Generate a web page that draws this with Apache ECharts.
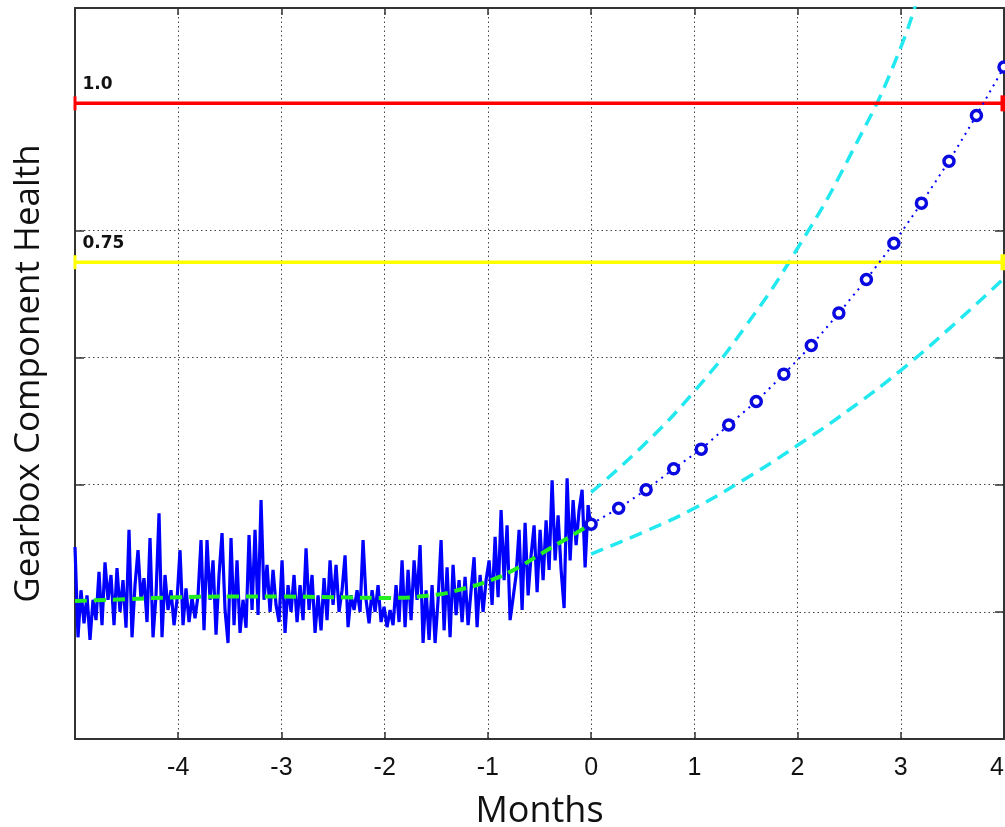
<!DOCTYPE html>
<html>
<head>
<meta charset="utf-8">
<script src="https://cdn.jsdelivr.net/npm/echarts@6/dist/echarts.min.js"></script>
<style>
html,body{margin:0;padding:0;background:#fff;overflow:hidden;}
#chart{width:1005px;height:827px;}
</style>
</head>
<body>
<div id="chart"></div>
<script>
// ---- Data ----
// Measured health history, evenly spaced from -5 to 0 months
const historyStart = -5;
const historyEnd = 0;
const historyValues = [
  0.302,0.160,0.234,0.182,0.226,0.156,0.219,0.187,0.263,0.179,0.278,0.219,0.258,0.179,0.269,0.200,0.250,0.175,0.329,0.160,0.242,0.297,0.219,0.253,0.184,0.316,0.160,0.226,0.355,0.160,0.258,0.203,0.234,0.179,0.219,0.297,0.179,0.237,0.184,0.222,0.190,0.226,0.313,
  0.171,0.313,0.219,0.281,0.164,0.258,0.324,0.203,0.151,0.316,0.179,0.281,0.167,0.219,0.175,0.321,0.203,0.329,0.195,0.376,0.219,0.274,0.200,0.266,0.211,0.184,0.281,0.167,0.242,0.200,0.258,0.184,0.242,0.187,0.300,0.203,0.258,0.167,0.226,0.171,0.253,0.187,0.281,0.211,
  0.274,0.200,0.234,0.289,0.176,0.226,0.203,0.234,0.200,0.313,0.219,0.182,0.234,0.200,0.242,0.184,0.208,0.176,0.203,0.179,0.242,0.184,0.281,0.176,0.266,0.187,0.281,0.219,0.305,0.151,0.234,0.156,0.242,0.151,0.219,0.313,0.171,0.270,0.160,0.274,0.195,0.250,0.184,
  0.255,0.179,0.234,0.286,0.176,0.258,0.200,0.250,0.281,0.211,0.318,0.223,0.360,0.250,0.336,0.187,0.222,0.258,0.329,0.203,0.340,0.226,0.289,0.336,0.231,0.329,0.250,0.344,0.266,0.407,0.281,0.352,0.266,0.206,0.410,0.281,0.376,0.305,0.360,0.392,0.270,0.368,0.329
];
// Trend fit (green dashed)
const fitMonths = [-5,-4.5,-4,-3.5,-3,-2.5,-2,-1.5,-1.25,-1,-0.75,-0.5,-0.25,0];
const fitValues = [0.217,0.220,0.223,0.224,0.224,0.223,0.222,0.227,0.236,0.248,0.266,0.290,0.314,0.338];
// Forecast (blue circles)
const forecastMonths = [0,0.267,0.533,0.8,1.067,1.333,1.6,1.867,2.133,2.4,2.667,2.933,3.2,3.467,3.733,4];
const forecastValues = [0.338,0.363,0.392,0.425,0.456,0.494,0.531,0.574,0.619,0.670,0.723,0.780,0.843,0.909,0.981,1.057];
// Confidence bounds (cyan dashed)
const upperMonths = [0,0.5,1,1.5,2,2.5,3,3.25];
const upperValues = [0.388,0.461,0.547,0.650,0.772,0.915,1.088,1.220];
const lowerMonths = [0,0.5,1,1.5,2,2.5,3,3.5,4];
const lowerValues = [0.291,0.325,0.363,0.410,0.462,0.518,0.580,0.650,0.725];
// Thresholds
const thresholdValues = [1.0, 0.75];
const thresholdLabels = ['1.0', '0.75'];
const xTicks = [-4,-3,-2,-1,0,1,2,3,4];

// ---- Build ----
const histData = historyValues.map((v, i) => [historyStart + i * (historyEnd - historyStart) / (historyValues.length - 1), v]);
const zip = (a, b) => a.map((x, i) => [x, b[i]]);

function thresholdSeries(val, label, color) {
  return {
    type: 'line',
    data: [
      {value: [-5, val], symbol: 'rect', symbolSize: [3, 14],
       label: {show: true, formatter: label, position: [9, -20], fontFamily: 'DejaVu Sans', fontWeight: 'bold', fontSize: 17, color: '#111'}},
      {value: [4, val], symbol: 'rect', symbolSize: [7, 16]}
    ],
    showSymbol: true,
    lineStyle: {color: color, width: 3.5},
    itemStyle: {color: color},
    z: 4,
    silent: true
  };
}

const axisColor = '#333';
const option = {
  animation: false,
  backgroundColor: '#fff',
  grid: {left: 75, right: 1, top: 8, bottom: 88, containLabel: false, outerBoundsMode: 'none'},
  xAxis: [{
    type: 'value', min: -5, max: 4, interval: 1,
    name: 'Months', nameLocation: 'middle', nameGap: 55,
    nameTextStyle: {fontFamily: 'Open Sans', fontSize: 36, color: '#111'},
    axisLine: {show: true, onZero: false, lineStyle: {color: axisColor, width: 2}},
    axisTick: {show: true, inside: true, length: 7, lineStyle: {color: axisColor, width: 1.5}},
    axisLabel: {show: true, fontFamily: 'Liberation Sans', fontSize: 25, color: '#111', margin: 17,
      alignMaxLabel: 'right',
      formatter: v => xTicks.includes(v) ? String(v) : ''},
    splitLine: {show: true, lineStyle: {type: [1.5, 3], color: '#444', width: 1}}
  }, {
    type: 'value', position: 'top', min: -5, max: 4, interval: 1,
    axisLine: {show: true, onZero: false, lineStyle: {color: axisColor, width: 2}},
    axisTick: {show: true, inside: true, length: 7, lineStyle: {color: axisColor, width: 1.5}},
    axisLabel: {show: false}, splitLine: {show: false}
  }],
  yAxis: [{
    type: 'value', min: 0, max: 1.15, interval: 0.2,
    name: 'Gearbox Component Health', nameLocation: 'middle', nameGap: 28,
    nameTextStyle: {fontFamily: 'Open Sans', fontSize: 35, color: '#111'},
    axisLine: {show: true, onZero: false, lineStyle: {color: axisColor, width: 2}},
    axisTick: {show: true, inside: true, length: 9, lineStyle: {color: axisColor, width: 1.5}},
    axisLabel: {show: false},
    splitLine: {show: true, lineStyle: {type: [1.5, 3], color: '#444', width: 1}}
  }, {
    type: 'value', position: 'right', min: 0, max: 1.15, interval: 0.2,
    axisLine: {show: true, onZero: false, lineStyle: {color: axisColor, width: 2}},
    axisTick: {show: true, inside: true, length: 9, lineStyle: {color: axisColor, width: 1.5}},
    axisLabel: {show: false}, splitLine: {show: false}
  }],
  series: [
    {
      type: 'line', data: histData, showSymbol: false,
      lineStyle: {color: '#0000ff', width: 3.2}, z: 2, silent: true
    },
    {
      type: 'line', data: zip(fitMonths, fitValues), smooth: true, showSymbol: false,
      lineStyle: {color: '#22ee22', width: 4, type: [12, 7]}, z: 3, silent: true
    },
    {
      type: 'line', data: zip(upperMonths, upperValues), smooth: true, showSymbol: false, clip: true,
      lineStyle: {color: '#22e8f0', width: 3.5, type: [13, 8]}, z: 3, silent: true
    },
    {
      type: 'line', data: zip(lowerMonths, lowerValues), smooth: true, showSymbol: false, clip: true,
      lineStyle: {color: '#22e8f0', width: 3.5, type: [13, 8]}, z: 3, silent: true
    },
    thresholdSeries(thresholdValues[0], thresholdLabels[0], '#ff0000'),
    thresholdSeries(thresholdValues[1], thresholdLabels[1], '#ffff00'),
    {
      type: 'line', data: zip(forecastMonths, forecastValues),
      symbol: 'circle', symbolSize: 10, showSymbol: true, showAllSymbol: true,
      lineStyle: {color: '#0000ff', width: 2, type: [2, 5]},
      itemStyle: {color: '#ffffff', borderColor: '#0a0ae0', borderWidth: 3.5},
      z: 5, silent: true
    }
  ]
};
const chart = echarts.init(document.getElementById('chart'), null, {renderer: 'canvas'});
chart.setOption(option);
</script>
</body>
</html>
